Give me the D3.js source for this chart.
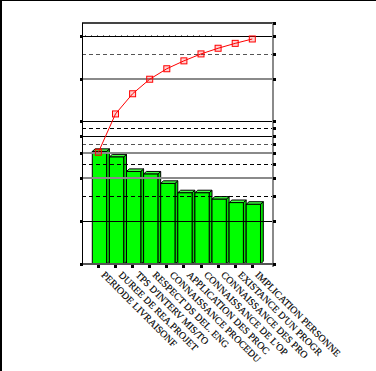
<!DOCTYPE html>
<html>
<head>
<meta charset="utf-8">
<script src="https://cdn.jsdelivr.net/npm/d3@7"></script>
<style>
  html, body { margin: 0; padding: 0; background: #fff; }
  svg { display: block; }
</style>
</head>
<body>
<svg id="chart" width="376" height="371"></svg>
<script>
// ---- data ----
const categories = [
  "PERIODE LIVRAISONF", "DUREE DE REA.PROJET", "TPS D'INTERV MIS/TO",
  "RESPECT DS DEL. ENG", "CONNAISSANCE PROCEDU", "APPLICATION DES PROC",
  "CONNAISSANCE DE L'OP", "CONNAISSANCE DES PRO", "EXISTANCE D'UN PROGR",
  "IMPLICATION PERSONNE"
];
const barValues = [26.4, 25.1, 21.7, 21.1, 18.9, 16.7, 16.7, 15.2, 14.4, 14.0];
// gridline tick values on the primary (bar) axis
const solidBlackTicks = [10.2, 30, 33.5, 53.5];
const solidGrayTicks = [20.2, 26, 43.4];
const dashedBlackTicks = [15.9, 23.4, 31.9];
const dashedGrayTicks = [28.2, 49.3];
const yMax = 56.6;
// secondary (cumulative %) log axis domain
const pctDomain = [1.98, 132.8];

// ---- derived ----
const total = d3.sum(barValues);
let run = 0;
const cumPct = barValues.map(v => (run += v) / total * 100);

// ---- layout ----
const svg = d3.select("#chart");
const plot = { left: 82, right: 272.7, top: 22.7, bottom: 264 };

const x = d3.scaleBand().domain(categories).range([92.3, 263.3]).paddingInner(0).paddingOuter(0);
const y = d3.scaleLinear().domain([0, yMax]).range([plot.bottom, plot.top]);
const y2 = d3.scaleLog().domain(pctDomain).range([plot.bottom, plot.top]);

const bw = x.bandwidth();
const faceW = bw * 0.835;
const depthX = bw - faceW;
const depthY = 2.6;
const markOff = 6.1;
const snap = v => Math.round(v) + 0.5;

// outer frame (top & left)
svg.append("line").attr("x1", 0).attr("x2", 376).attr("y1", 0.5).attr("y2", 0.5)
  .attr("stroke", "#000").attr("stroke-width", 1);
svg.append("line").attr("x1", 1).attr("x2", 1).attr("y1", 0).attr("y2", 371)
  .attr("stroke", "#000").attr("stroke-width", 2);

// ---- bars (3D look) ----
const bars = svg.append("g");
categories.forEach((c, i) => {
  const x0 = x(c), yt = y(barValues[i]), yb = y(0);
  // side face
  bars.append("polygon")
    .attr("points", [[x0 + faceW, yt], [x0 + faceW + depthX, yt - depthY],
                     [x0 + faceW + depthX, yb - depthY], [x0 + faceW, yb]].join(" "))
    .attr("fill", "#00e000").attr("stroke", "#000").attr("stroke-width", 1);
  // top face
  bars.append("polygon")
    .attr("points", [[x0, yt], [x0 + depthX, yt - depthY],
                     [x0 + faceW + depthX, yt - depthY], [x0 + faceW, yt]].join(" "))
    .attr("fill", "#40ff40").attr("stroke", "#000").attr("stroke-width", 1);
  // front face
  bars.append("rect")
    .attr("x", x0).attr("y", yt).attr("width", faceW).attr("height", yb - yt)
    .attr("fill", "#00ff00").attr("stroke", "#000").attr("stroke-width", 1);
});

// ---- gridlines (drawn over the bars) ----
const grid = svg.append("g").attr("shape-rendering", "crispEdges");
function hlines(vals, color, width, dash) {
  grid.selectAll(null).data(vals).enter().append("line")
    .attr("x1", plot.left).attr("x2", plot.right)
    .attr("y1", d => width > 1.5 ? Math.round(y(d)) : snap(y(d)))
    .attr("y2", d => width > 1.5 ? Math.round(y(d)) : snap(y(d)))
    .attr("stroke", color).attr("stroke-width", width)
    .attr("stroke-dasharray", dash || null);
}
hlines(solidGrayTicks, "#8a8a8a", 2);
hlines(dashedGrayTicks, "#555", 1.2, "4,3");
hlines(dashedBlackTicks, "#000", 1, "4,3");
hlines(solidBlackTicks, "#000", 1);
// faint minor dots above the top black gridline
grid.append("line")
  .attr("x1", plot.left + 3).attr("x2", plot.right - 60)
  .attr("y1", snap(y(d3.max(solidBlackTicks))) - 1).attr("y2", snap(y(d3.max(solidBlackTicks))) - 1)
  .attr("stroke", "#777").attr("stroke-width", 1).attr("stroke-dasharray", "1,5");

// plot top border
grid.append("line").attr("x1", plot.left).attr("x2", plot.right + 1)
  .attr("y1", Math.round(y(yMax))).attr("y2", Math.round(y(yMax)))
  .attr("stroke", "#444").attr("stroke-width", 1.5);
// left axis
grid.append("line").attr("x1", snap(plot.left)).attr("x2", snap(plot.left))
  .attr("y1", y(yMax)).attr("y2", y(0) + 1)
  .attr("stroke", "#000").attr("stroke-width", 1);
// right axis
grid.append("line").attr("x1", Math.round(plot.right)).attr("x2", Math.round(plot.right))
  .attr("y1", y(yMax)).attr("y2", y(0) + 3)
  .attr("stroke", "#8a8a8a").attr("stroke-width", 2);
// bottom axis
grid.append("line").attr("x1", plot.left).attr("x2", plot.right)
  .attr("y1", Math.round(y(0))).attr("y2", Math.round(y(0)))
  .attr("stroke", "#555").attr("stroke-width", 1.5);

// tick marks
const leftTicks = [0].concat(solidBlackTicks, solidGrayTicks);
const rightTicks = leftTicks.concat(dashedBlackTicks, dashedGrayTicks, [yMax]);
grid.selectAll(null).data(leftTicks).enter().append("rect")
  .attr("x", plot.left - 2.5).attr("y", d => Math.round(y(d)) - 1.5)
  .attr("width", 3).attr("height", 3).attr("fill", "#000");
grid.selectAll(null).data(rightTicks).enter().append("rect")
  .attr("x", plot.right + 0.5).attr("y", d => Math.round(y(d)) - 1.5)
  .attr("width", 3).attr("height", 3).attr("fill", "#000");
grid.selectAll(null).data(categories).enter().append("rect")
  .attr("x", d => x(d) + markOff - 1.5).attr("y", y(0) + 1)
  .attr("width", 3).attr("height", 3).attr("fill", "#000");

// ---- cumulative line ----
const line = d3.line()
  .x((d, i) => x(categories[i]) + markOff)
  .y(d => y2(d));
svg.append("path").datum(cumPct)
  .attr("d", line).attr("fill", "none").attr("stroke", "#ff0000").attr("stroke-width", 1);
svg.selectAll(null).data(cumPct).enter().append("rect")
  .attr("x", (d, i) => x(categories[i]) + markOff - 3)
  .attr("y", d => y2(d) - 3)
  .attr("width", 6).attr("height", 6)
  .attr("fill", "rgba(255,0,0,0.18)").attr("stroke", "#ff0000").attr("stroke-width", 1);

// ---- category labels ----
svg.append("g").selectAll("text").data(categories).enter().append("text")
  .attr("transform", d => `translate(${x(d) + markOff + 2.4},${y(0) + 11.5}) rotate(45)`)
  .attr("text-anchor", "start")
  .attr("font-family", "'Liberation Serif', 'Times New Roman', serif")
  .attr("font-size", "9.8px")
  .attr("fill", "#000")
  .attr("stroke", "#000").attr("stroke-width", 0.15)
  .text(d => d);
</script>
</body>
</html>
